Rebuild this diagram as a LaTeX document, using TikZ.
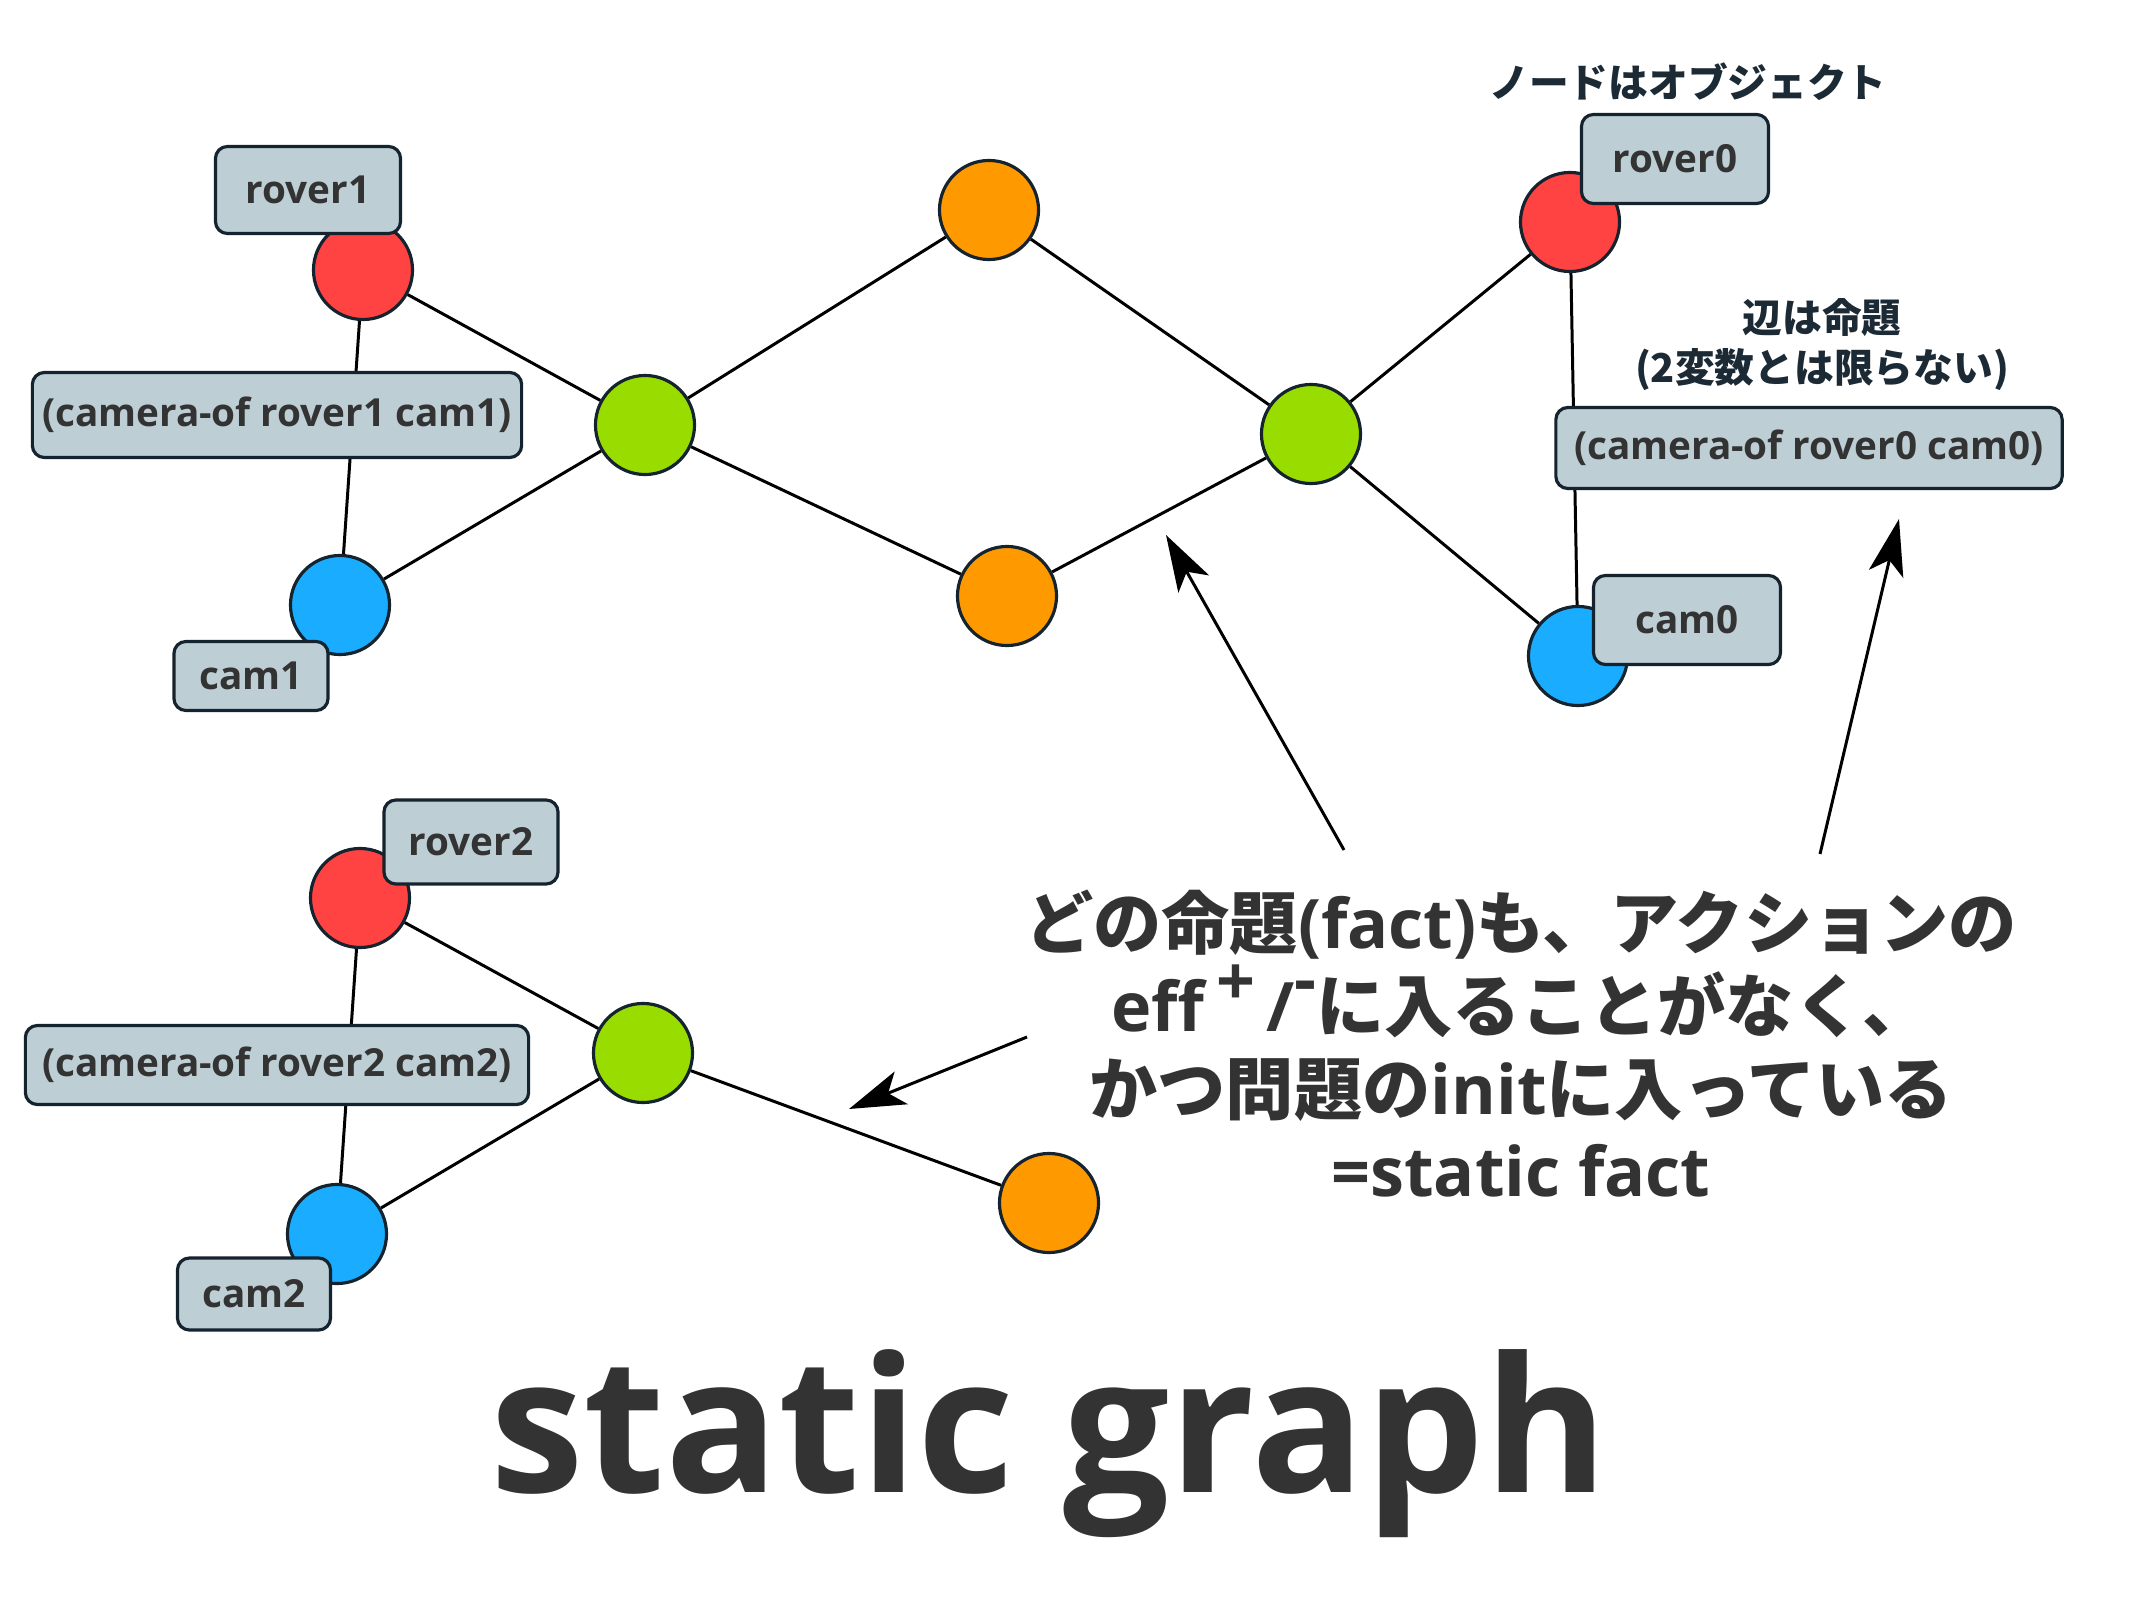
\documentclass[tikz,border=0pt]{standalone}
\usepackage{fontspec}
\setmainfont{Open Sans}
\newfontfamily\jp{Noto Sans CJK JP}
\newcommand\latn[1]{{\rmfamily #1}}
\usetikzlibrary{arrows.meta}
\definecolor{nred}{HTML}{FF4242}
\definecolor{nblue}{HTML}{1AACFF}
\definecolor{ngreen}{HTML}{99DD00}
\definecolor{norange}{HTML}{FF9900}
\definecolor{boxfill}{HTML}{BDCED5}
\definecolor{bordercol}{HTML}{15232E}
\definecolor{txt}{HTML}{333333}
\definecolor{annot}{HTML}{1C2A35}
\tikzset{
  vtx/.style={circle, draw=bordercol, line width=0.9pt, minimum size=0.99cm, inner sep=0pt},
  lbl/.style={draw=bordercol, fill=boxfill, rounded corners=0.12cm, line width=0.9pt,
    font=\bfseries\fontsize{11}{13}\selectfont, text=txt, inner sep=0pt},
  edge/.style={line width=0.85pt, black},
  arr/.style={line width=0.85pt, black, -{Stealth[length=16pt,width=10pt,inset=4pt]}},
  bigtext/.style={font=\jp\bfseries\fontsize{19.4}{23.5}\selectfont, text=txt, align=center},
  note/.style={font=\jp\bfseries\fontsize{11.3}{14.2}\selectfont, text=annot, align=center}
}
\begin{document}
\begin{tikzpicture}[x=0.01cm,y=-0.01cm]
\useasboundingbox (0,0) rectangle (2133,1600);
% vertices
\node[vtx, fill=nred]    (r1) at (363,270) {};
\node[vtx, fill=nblue]   (c1) at (340,605) {};
\node[vtx, fill=ngreen]  (g1) at (645,425) {};
\node[vtx, fill=norange] (o1) at (989,210) {};
\node[vtx, fill=norange] (o2) at (1007,596) {};
\node[vtx, fill=ngreen]  (g2) at (1311,434) {};
\node[vtx, fill=nred]    (r0) at (1570,222) {};
\node[vtx, fill=nblue]   (c0) at (1578,656) {};
\node[vtx, fill=nred]    (r2) at (360,898) {};
\node[vtx, fill=ngreen]  (g3) at (643,1053) {};
\node[vtx, fill=nblue]   (c2) at (337,1234) {};
\node[vtx, fill=norange] (o3) at (1049,1203) {};
% edges
\draw[edge] (r1) -- (g1);
\draw[edge] (c1) -- (g1);
\draw[edge] (r1) -- (c1);
\draw[edge] (g1) -- (o1);
\draw[edge] (g1) -- (o2);
\draw[edge] (o1) -- (g2);
\draw[edge] (o2) -- (g2);
\draw[edge] (g2) -- (r0);
\draw[edge] (g2) -- (c0);
\draw[edge] (r0) -- (c0);
\draw[edge] (r2) -- (g3);
\draw[edge] (c2) -- (g3);
\draw[edge] (r2) -- (c2);
\draw[edge] (g3) -- (o3);
% labels
\node[lbl, minimum width=1.85cm, minimum height=0.87cm] (br1) at (308,190) {rover1};
\node[lbl, minimum width=4.89cm, minimum height=0.85cm] (be1) at (277,415) {(camera-of rover1 cam1)};
\node[lbl, minimum width=1.54cm, minimum height=0.69cm] (bc1) at (251,676) {cam1};
\node[lbl, minimum width=1.87cm, minimum height=0.89cm] (br0) at (1675,159) {rover0};
\node[lbl, minimum width=5.06cm, minimum height=0.81cm] (be0) at (1809,448) {(camera-of rover0 cam0)};
\node[lbl, minimum width=1.87cm, minimum height=0.89cm] (bc0) at (1687,620) {cam0};
\node[lbl, minimum width=1.74cm, minimum height=0.84cm] (br2) at (471,842) {rover2};
\node[lbl, minimum width=5.03cm, minimum height=0.79cm] (be2) at (277,1065) {(camera-of rover2 cam2)};
\node[lbl, minimum width=1.53cm, minimum height=0.72cm] (bc2) at (254,1294) {cam2};
% annotations
\node[note] (tnode) at (1688,82) {ノードはオブジェクト};
\node[note] (tedge) at (1822,345) {辺は命題\\(2変数とは限らない)};
\node[bigtext] (main) at (1521,1044) {どの命題\latn{(fact)}も、アクションの\\
\latn{eff\,\smash{\raisebox{7.5pt}{+}}\,/\smash{\raisebox{8pt}{-}}}に入ることがなく、\\
かつ問題の\latn{init}に入っている\\
\latn{=static fact}};
\node[font=\bfseries\fontsize{53.5}{60}\selectfont, text=txt, anchor=base] (title) at (1049,1492) {static graph};
% arrows
\coordinate (a1s) at (1344,850);
\coordinate (a1e) at (1166,535);
\coordinate (a2s) at (1820,854);
\coordinate (a2e) at (1899,519);
\coordinate (a3s) at (1027,1037);
\coordinate (a3e) at (849,1109);
\draw[arr] (a1s) -- (a1e);
\draw[arr] (a2s) -- (a2e);
\draw[arr] (a3s) -- (a3e);
\end{tikzpicture}
\end{document}
